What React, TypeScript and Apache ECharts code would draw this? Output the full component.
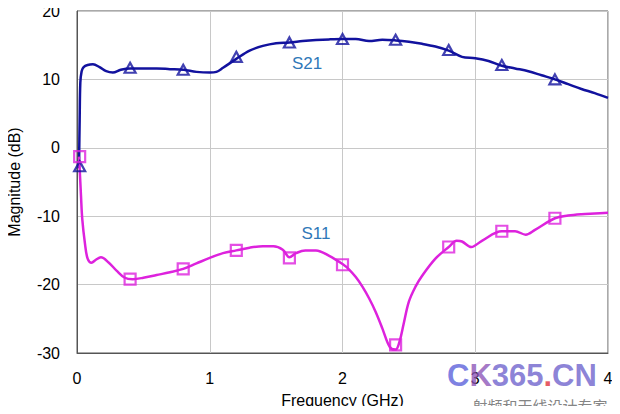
import React, { useEffect, useRef } from "react";
import * as echarts from "echarts";

// S21 trace (GHz, dB)
const s21Freq = [0.015, 0.02, 0.025, 0.035, 0.05, 0.08, 0.12, 0.17, 0.22, 0.27, 0.33, 0.4, 0.5, 0.6, 0.7, 0.8, 0.9, 1.0, 1.05, 1.1, 1.2, 1.3, 1.4, 1.5, 1.6, 1.7, 1.8, 1.9, 2.0, 2.1, 2.2, 2.3, 2.4, 2.5, 2.6, 2.7, 2.8, 2.9, 3.0, 3.1, 3.2, 3.3, 3.4, 3.5, 3.6, 3.7, 3.8, 3.9, 4.0];
const s21Values = [-3.0, 4.0, 9.5, 11.2, 11.8, 12.1, 12.2, 11.8, 11.2, 11.0, 11.4, 11.6, 11.6, 11.6, 11.5, 11.4, 11.1, 11.0, 11.1, 11.7, 13.0, 14.2, 14.9, 15.3, 15.4, 15.6, 15.75, 15.85, 15.9, 15.9, 15.6, 15.8, 15.7, 15.5, 15.2, 14.8, 14.2, 13.3, 13.1, 12.7, 12.0, 11.6, 11.2, 10.6, 10.0, 9.3, 8.6, 8.0, 7.3];
const s21MarkerFreq = [0.02, 0.4, 0.8, 1.2, 1.6, 2.0, 2.4, 2.8, 3.2, 3.6];
const s21MarkerValues = [-2.7, 11.7, 11.4, 13.3, 15.4, 15.9, 15.8, 14.3, 12.1, 10.0];

// S11 trace (GHz, dB)
const s11Freq = [0.015, 0.02, 0.03, 0.04, 0.06, 0.08, 0.11, 0.14, 0.18, 0.24, 0.3, 0.36, 0.42, 0.5, 0.6, 0.7, 0.8, 0.9, 1.0, 1.1, 1.2, 1.3, 1.4, 1.48, 1.55, 1.6, 1.65, 1.72, 1.8, 1.9, 2.0, 2.05, 2.1, 2.15, 2.2, 2.25, 2.3, 2.34, 2.37, 2.4, 2.43, 2.46, 2.5, 2.55, 2.6, 2.7, 2.8, 2.86, 2.9, 2.97, 3.05, 3.2, 3.3, 3.38, 3.45, 3.6, 3.7, 3.8, 3.9, 4.0];
const s11Values = [-1.3, -3.0, -7.0, -10.5, -14.0, -16.2, -16.8, -16.4, -16.0, -16.8, -18.0, -19.0, -19.2, -19.0, -18.6, -18.2, -17.7, -16.9, -16.1, -15.4, -15.0, -14.6, -14.4, -14.4, -14.9, -16.0, -15.4, -15.0, -15.0, -15.8, -17.0, -17.8, -18.9, -20.3, -22.0, -24.0, -26.4, -28.5, -29.4, -29.5, -28.3, -25.8, -22.5, -20.3, -18.7, -16.2, -14.5, -13.6, -13.7, -14.5, -13.6, -12.2, -12.2, -12.7, -12.0, -10.3, -9.9, -9.7, -9.6, -9.5];
const s11MarkerFreq = [0.02, 0.4, 0.8, 1.2, 1.6, 2.0, 2.4, 2.8, 3.2, 3.6];
const s11MarkerValues = [-1.3, -19.2, -17.7, -15.0, -16.1, -17.1, -28.8, -14.5, -12.2, -10.3];

const traceNames = ["S21", "S11"];
const xAxisTitle = "Frequency (GHz)";
const yAxisTitle = "Magnitude (dB)";
const watermarkParts = ["C", "K", "365", ".", "CN"];
const watermarkSub = "射频和天线设计专家";

const S21_COLOR = "#12129E";
const S11_COLOR = "#DD22DD";
const LABEL_COLOR = "#2F78B8";
const FONT = "'Liberation Sans', Arial, sans-serif";

const zip = (xs: number[], ys: number[]) => xs.map((x, i) => [x, ys[i]]);

export default function App() {
  const ref = useRef<HTMLDivElement>(null);

  useEffect(() => {
    if (!ref.current) return;
    const chart = echarts.init(ref.current, null, { renderer: "svg" });
    const wmFont = `bold 31px ${FONT}`;
    chart.setOption({
      animation: false,
      backgroundColor: "#ffffff",
      textStyle: { fontFamily: FONT },
      grid: {
        left: 77,
        right: 12,
        top: 11,
        bottom: 61,
        show: true,
        borderColor: "#555555",
        borderWidth: 1,
        containLabel: false,
        outerBoundsMode: "none",
      },
      xAxis: {
        type: "value",
        min: 0,
        max: 4,
        interval: 1,
        name: xAxisTitle,
        nameLocation: "middle",
        nameGap: 39,
        nameTextStyle: { fontSize: 16, color: "#000", fontFamily: FONT },
        axisLine: { show: true, onZero: false, lineStyle: { color: "#555555", width: 1 } },
        axisTick: { show: false },
        axisLabel: { fontSize: 16, color: "#000", margin: 17, fontFamily: FONT },
        splitLine: { show: true, lineStyle: { color: "#C8C8C8", width: 1 } },
      },
      yAxis: {
        type: "value",
        min: -30,
        max: 20,
        interval: 10,
        name: yAxisTitle,
        nameLocation: "middle",
        nameGap: 55,
        nameTextStyle: { fontSize: 16, color: "#000", fontFamily: FONT },
        axisLine: { show: true, onZero: false, lineStyle: { color: "#555555", width: 1 } },
        axisTick: { show: false },
        axisLabel: { fontSize: 16, color: "#000", margin: 17, fontFamily: FONT },
        splitLine: { show: true, lineStyle: { color: "#C8C8C8", width: 1 } },
      },
      series: [
        {
          name: traceNames[0],
          type: "line",
          data: zip(s21Freq, s21Values),
          showSymbol: false,
          smooth: 0.35,
          lineStyle: { color: S21_COLOR, width: 2.5 },
          z: 3,
        },
        {
          name: traceNames[0] + " markers",
          type: "scatter",
          data: zip(s21MarkerFreq, s21MarkerValues),
          symbol: "triangle",
          symbolSize: [11, 10],
          itemStyle: { color: "rgba(255,255,255,0)", borderColor: S21_COLOR, borderWidth: 2.2 },
          z: 4,
        },
        {
          name: traceNames[1],
          type: "line",
          data: zip(s11Freq, s11Values),
          showSymbol: false,
          smooth: 0.35,
          lineStyle: { color: S11_COLOR, width: 2.5 },
          z: 3,
        },
        {
          name: traceNames[1] + " markers",
          type: "scatter",
          data: zip(s11MarkerFreq, s11MarkerValues),
          symbol: "rect",
          symbolSize: 11,
          itemStyle: { color: "rgba(255,255,255,0)", borderColor: S11_COLOR, borderWidth: 2.2 },
          z: 4,
        },
      ],
      graphic: [
        {
          type: "text",
          x: 307,
          y: 63,
          style: {
            text: traceNames[0],
            fill: LABEL_COLOR,
            font: `17px ${FONT}`,
            align: "center",
            verticalAlign: "middle",
          },
        },
        {
          type: "text",
          x: 316,
          y: 233,
          style: {
            text: traceNames[1],
            fill: LABEL_COLOR,
            font: `17px ${FONT}`,
            align: "center",
            verticalAlign: "middle",
          },
        },
        {
          type: "text",
          x: 447,
          y: 375,
          z: 100,
          style: {
            text: `{a|${watermarkParts[0]}}{b|${watermarkParts[1]}}{c|${watermarkParts[2]}}{d|${watermarkParts[3]}}{c|${watermarkParts[4]}}`,
            align: "left",
            verticalAlign: "middle",
            opacity: 0.78,
            rich: {
              a: { font: wmFont, fill: "#5A60DA" },
              b: { font: wmFont, fill: "#8C55B8" },
              c: { font: wmFont, fill: "#6E62CC" },
              d: { font: wmFont, fill: "#E0303A" },
            },
          },
        },
        {
          type: "text",
          x: 540,
          y: 405,
          z: 100,
          style: {
            text: watermarkSub,
            fill: "#858585",
            font: `15px 'Noto Sans CJK SC', sans-serif`,
            align: "center",
            verticalAlign: "middle",
          },
        },
      ],
    });
    return () => chart.dispose();
  }, []);

  return <div ref={ref} style={{ width: 620, height: 414, margin: -8 }} />;
}
